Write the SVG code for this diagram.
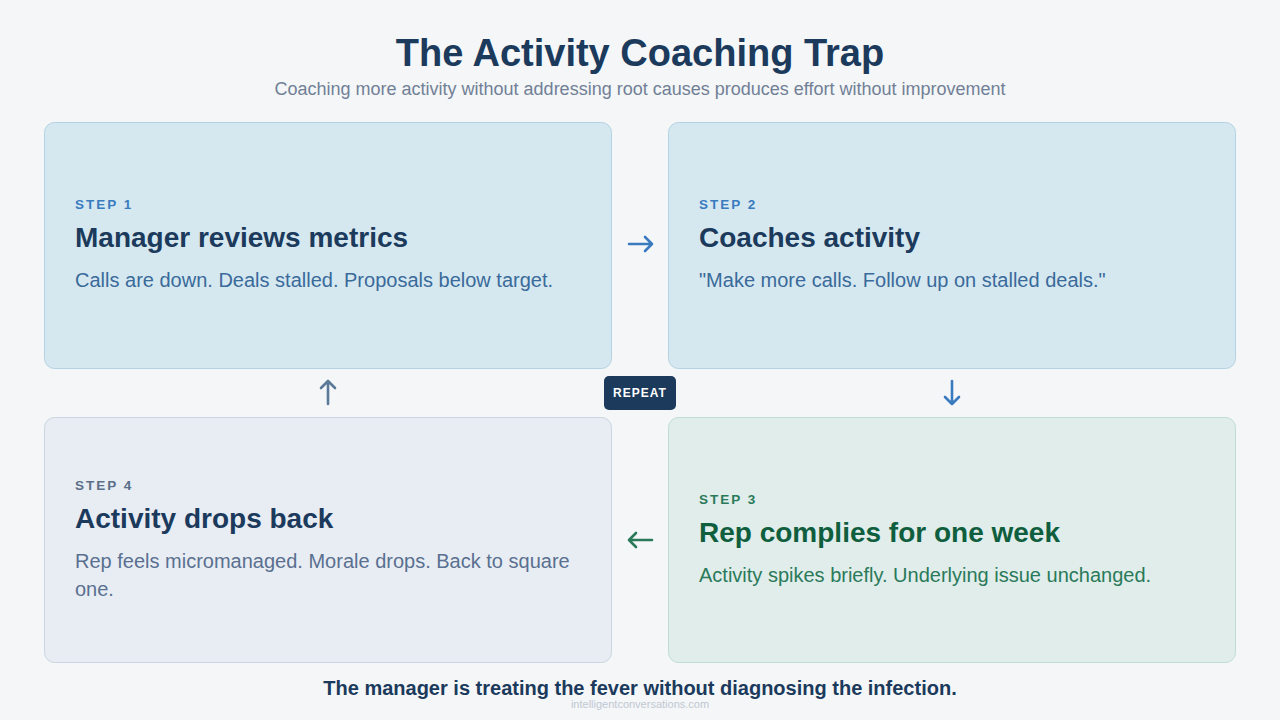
<svg xmlns="http://www.w3.org/2000/svg" width="1280" height="720" viewBox="0 0 1280 720">
<style>
text{font-family:"Liberation Sans",Arial,sans-serif}
.title{font-size:38px;font-weight:bold;fill:#1b3a5c}
.sub{font-size:18px;fill:#718096}
.step{font-size:13.5px;font-weight:bold;letter-spacing:2px}
.head{font-size:28px;font-weight:bold}
.body{font-size:20px}
.arr{fill:none;stroke-width:2.6;stroke-linecap:round;stroke-linejoin:round}
</style>
<rect width="1280" height="720" fill="#f4f6f8"/>
<text class="title" x="640" y="66" text-anchor="middle">The Activity Coaching Trap</text>
<text class="sub" x="640" y="95" text-anchor="middle">Coaching more activity without addressing root causes produces effort without improvement</text>

<g id="step1">
<rect x="44.5" y="122.5" width="567" height="246" rx="10" fill="#d5e8f0" stroke="#b3d2e3"/>
<text class="step" x="75" y="209" fill="#3a7bbf">STEP 1</text>
<text class="head" x="75" y="247" fill="#1b3a5c">Manager reviews metrics</text>
<text class="body" x="75" y="287" fill="#3a6a9a">Calls are down. Deals stalled. Proposals below target.</text>
</g>
<g id="step2">
<rect x="668.5" y="122.5" width="567" height="246" rx="10" fill="#d5e8f0" stroke="#b3d2e3"/>
<text class="step" x="699" y="209" fill="#3a7bbf">STEP 2</text>
<text class="head" x="699" y="247" fill="#1b3a5c">Coaches activity</text>
<text class="body" x="699" y="287" fill="#3a6a9a">"Make more calls. Follow up on stalled deals."</text>
</g>
<g id="step3">
<rect x="668.5" y="417.5" width="567" height="245" rx="10" fill="#e0edea" stroke="#bfdcd5"/>
<text class="step" x="699" y="504" fill="#2a7a5a">STEP 3</text>
<text class="head" x="699" y="542" fill="#0f5e3e">Rep complies for one week</text>
<text class="body" x="699" y="582" fill="#2a7a5a">Activity spikes briefly. Underlying issue unchanged.</text>
</g>
<g id="step4">
<rect x="44.5" y="417.5" width="567" height="245" rx="10" fill="#e8edf4" stroke="#c9d5e0"/>
<text class="step" x="75" y="490" fill="#5a6f88">STEP 4</text>
<text class="head" x="75" y="528" fill="#1b3a5c">Activity drops back</text>
<text class="body" x="75" y="568" fill="#5a7090">Rep feels micromanaged. Morale drops. Back to square</text>
<text class="body" x="75" y="596" fill="#5a7090">one.</text>
</g>
<g id="repeat">
<rect x="604" y="376" width="72" height="34" rx="5" fill="#1b3a5c"/>
<text x="640" y="397" text-anchor="middle" font-size="12" font-weight="bold" letter-spacing="1" fill="#ffffff">REPEAT</text>
</g>
<g id="connectors">
<path class="arr" stroke="#3a7bbf" d="M629 244H652M645 237L652 244L645 251"/>
<path class="arr" stroke="#3a7bbf" d="M952 381V404M945 397L952 404L959 397"/>
<path class="arr" stroke="#2a7a5a" d="M652 540H629M636 533L629 540L636 547"/>
<path class="arr" stroke="#5a7a98" d="M328 404V381M321 388L328 381L335 388"/>
</g>
<text x="640" y="695" text-anchor="middle" font-size="20" font-weight="bold" fill="#1b3a5c">The manager is treating the fever without diagnosing the infection.</text>
<text x="640" y="708" text-anchor="middle" font-size="11" fill="#c0c8d2">intelligentconversations.com</text>
</svg>
